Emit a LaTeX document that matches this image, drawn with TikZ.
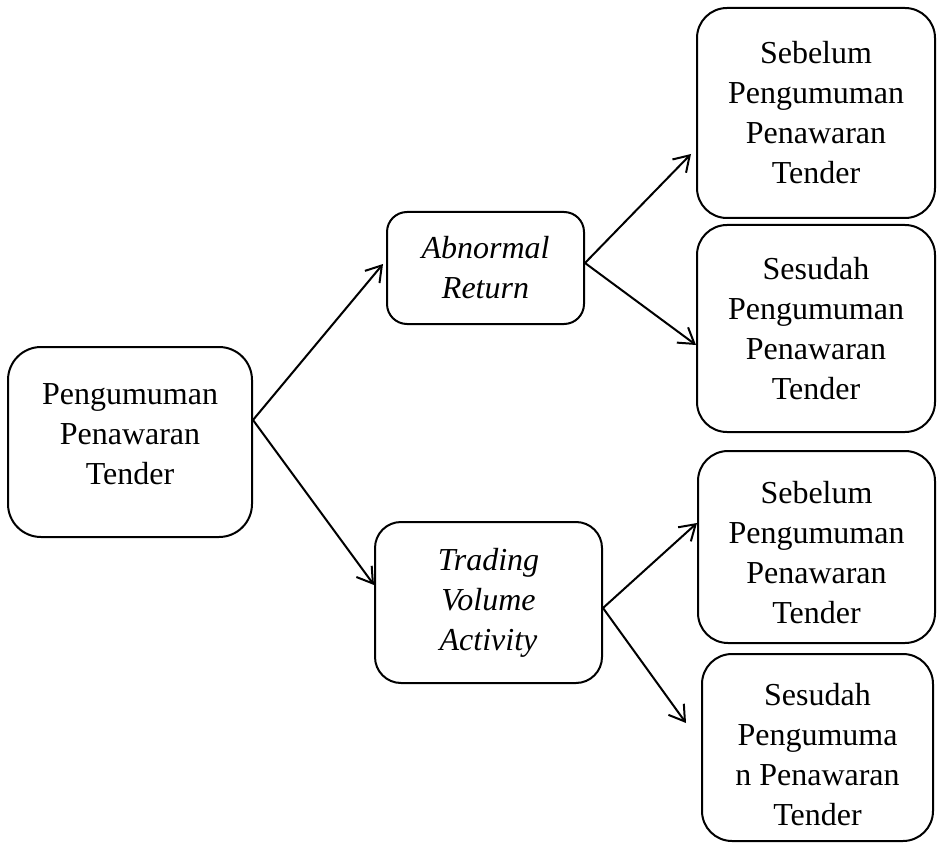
\documentclass[tikz,border=0pt]{standalone}
\usepackage{fontspec}
\setmainfont{Liberation Serif}
\usetikzlibrary{arrows.meta,calc}
\begin{document}
\begin{tikzpicture}[x=1pt,y=-1pt,
  box/.style={draw,line width=2pt,align=center,inner sep=0pt,
    font=\fontsize{32}{40}\selectfont},
  conn/.style={line width=2pt,-{Straight Barb[length=15pt,width=19pt]}}]
\useasboundingbox (0,0) rectangle (937,845);
\node[box,rounded corners=33pt,minimum width=244pt,minimum height=190pt] (A) at (130,442) {Pengumuman\\Penawaran\\Tender\rule[-16pt]{0pt}{0pt}};
\node[box,rounded corners=20pt,minimum width=197pt,minimum height=112pt] (B) at (485.5,268) {\itshape Abnormal\\\itshape Return};
\node[box,rounded corners=26pt,minimum width=227pt,minimum height=161pt] (C) at (488.5,602.5) {\itshape Trading\\\itshape Volume\\\itshape Activity};
\node[box,rounded corners=30pt,minimum width=238pt,minimum height=210pt] (D1) at (816,113) {Sebelum\\Pengumuman\\Penawaran\\Tender};
\node[box,rounded corners=30pt,minimum width=238pt,minimum height=207pt] (D2) at (816,328.5) {Sesudah\\Pengumuman\\Penawaran\\Tender};
\node[box,rounded corners=30pt,minimum width=237pt,minimum height=192pt] (D3) at (816.5,547) {\rule{0pt}{33pt}Sebelum\\Pengumuman\\Penawaran\\Tender};
\node[box,rounded corners=30pt,minimum width=231pt,minimum height=187pt] (D4) at (817.5,747.5) {\rule{0pt}{36pt}Sesudah\\Pengumuma\\n Penawaran\\Tender};
\draw[conn] ($(A.east)+(0,-22)$) -- ($(B.west)+(-3,-4)$);
\draw[conn] ($(A.east)+(0,-22)$) -- ($(C.west)+(0,-17.5)$);
\draw[conn] ($(B.east)+(0,-5)$) -- ($(D1.west)+(-5,41)$);
\draw[conn] ($(B.east)+(0,-5)$) -- ($(D2.west)+(0,16.5)$);
\draw[conn] ($(C.east)+(0,5.5)$) -- ($(D3.west)+(0,-24)$);
\draw[conn] ($(C.east)+(0,5.5)$) -- ($(D4.west)+(-15,-24.5)$);
\end{tikzpicture}
\end{document}
